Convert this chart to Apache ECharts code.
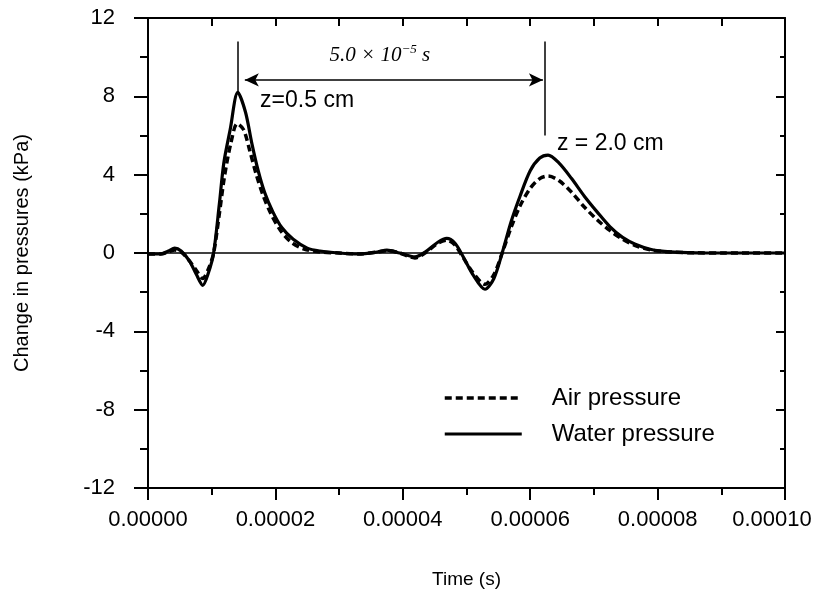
<!DOCTYPE html>
<html><head><meta charset="utf-8">
<script src="https://cdn.jsdelivr.net/npm/echarts@6/dist/echarts.min.js"></script>
<style>html,body{margin:0;padding:0;background:#fff}#c{width:813px;height:595px}</style>
</head><body><div id="c"></div>
<script>
// ---- data (time in microseconds, pressure change in kPa) ----
const waterTimeUs = [0,2.0,3.2,4.2,5.2,6.5,7.6,8.6,9.5,10.3,11.2,11.9,12.9,14.1,15.3,16.3,17.3,18.3,19.6,21.0,22.8,25.0,27.0,30.0,33.0,36.0,37.5,39.5,41.9,43.5,45.5,46.9,48.2,49.5,51.0,52.9,54.3,55.6,57.0,58.4,60.0,61.5,62.8,64.5,66.5,68.5,70.5,72.5,74.5,76.5,79.0,82.0,86.0,90.0,100.0];
const waterKPa    = [-0.05,-0.05,0.1,0.25,0.1,-0.4,-1.1,-1.65,-1.0,0,2.5,4.6,6.3,8.2,7.2,5.6,4.2,3.1,2.1,1.3,0.7,0.25,0.1,0.0,-0.05,0.05,0.15,0.0,-0.2,0.05,0.55,0.75,0.5,-0.2,-1.1,-1.85,-1.3,0,1.6,2.9,4.2,4.85,5.0,4.6,3.8,2.9,2.1,1.35,0.8,0.45,0.18,0.06,0.01,0,0];
const airTimeUs   = [0,2.0,3.2,4.2,5.2,6.5,7.6,8.6,9.5,10.3,11.2,12.0,13.0,14.0,15.0,16.0,17.0,18.0,19.3,20.8,22.5,24.5,27.0,30.0,33.0,36.0,37.5,39.5,41.9,43.5,45.5,46.9,48.2,49.5,51.0,52.9,54.3,55.6,57.0,58.4,60.0,61.5,62.8,64.5,66.5,68.5,70.5,72.5,74.5,76.5,79.0,82.0,86.0,90.0,100.0];
const airKPa      = [-0.05,-0.05,0.05,0.15,0.05,-0.4,-0.9,-1.3,-0.8,0,2.0,3.9,5.6,6.6,6.3,5.2,4.0,3.0,2.0,1.15,0.55,0.2,0.05,0,-0.05,0.05,0.12,0,-0.25,0.0,0.5,0.65,0.4,-0.25,-1.0,-1.6,-1.1,0,1.3,2.4,3.3,3.8,3.93,3.7,3.1,2.35,1.7,1.15,0.7,0.38,0.15,0.05,0.01,0,0];
const seriesNames = ['Air pressure', 'Water pressure'];
const peak1Us = 14.1, peak2Us = 62.3;

const toPairs = (ts, vs) => ts.map((t, i) => [t * 1e-6, vs[i]]);
const black = '#000';
const FONT = 'Arial, "Liberation Sans", Helvetica, sans-serif';
const airLine = { color: black, width: 3.5, type: [7, 4] };
const waterLine = { color: black, width: 3.2 };
const X_MAX = 0.0001;

const chart = echarts.init(document.getElementById('c'));
const option = {
  animation: false,
  backgroundColor: '#fff',
  grid: { left: 148, right: 28, top: 18, bottom: 107, containLabel: false, outerBoundsMode: 'none' },
  legend: {
    data: [
      { name: seriesNames[0], lineStyle: airLine, itemStyle: { opacity: 0 } },
      { name: seriesNames[1], lineStyle: waterLine, itemStyle: { opacity: 0 } }
    ],
    orient: 'vertical',
    left: 438, top: 381,
    itemWidth: 77, itemHeight: 14, itemGap: 12,
    itemStyle: { opacity: 0, borderWidth: 0 },
    textStyle: { fontFamily: FONT, fontSize: 24, color: black, padding: [0,0,0,25] },
    inactiveColor: black
  },
  xAxis: [{
    type: 'value', position: 'bottom', min: 0, max: X_MAX, interval: 0.00002,
    name: 'Time (s)', nameLocation: 'middle', nameGap: 82,
    nameTextStyle: { fontFamily: FONT, fontSize: 19, color: black },
    axisLine: { show: true, onZero: false, lineStyle: { color: black, width: 2 } },
    axisTick: { show: true, inside: false, length: 12, lineStyle: { color: black, width: 2 } },
    minorTick: { show: true, splitNumber: 2, length: 7, lineStyle: { color: black, width: 2 } },
    splitLine: { show: false },
    axisLabel: { fontFamily: FONT, fontSize: 22, color: black, margin: 21, overflow: 'none',
                 formatter: v => Math.abs(v - X_MAX) < 1e-12 ? '{last|' + v.toFixed(5) + '}' : v.toFixed(5),
                 rich: { last: { fontFamily: FONT, fontSize: 22, color: black, padding: [0, 26, 0, 0] } } }
  }, {
    type: 'value', position: 'top', min: 0, max: X_MAX, interval: 0.00002,
    axisLine: { show: true, onZero: false, lineStyle: { color: black, width: 2 } },
    axisTick: { show: true, inside: true, length: 8, lineStyle: { color: black, width: 2 } },
    minorTick: { show: true, splitNumber: 2, length: 8, lineStyle: { color: black, width: 2 } },
    splitLine: { show: false }, axisLabel: { show: false }
  }],
  yAxis: [{
    type: 'value', position: 'left', min: -12, max: 12, interval: 4,
    name: 'Change in pressures (kPa)', nameLocation: 'middle', nameGap: 116, nameRotate: 90,
    nameTextStyle: { fontFamily: FONT, fontSize: 20, color: black },
    axisLine: { show: true, onZero: false, lineStyle: { color: black, width: 2 } },
    axisTick: { show: true, inside: false, length: 14, lineStyle: { color: black, width: 2 } },
    minorTick: { show: true, splitNumber: 2, length: 8, lineStyle: { color: black, width: 2 } },
    splitLine: { show: false },
    axisLabel: { fontFamily: FONT, fontSize: 22, color: black, margin: 33 }
  }, {
    type: 'value', position: 'right', min: -12, max: 12, interval: 4,
    axisLine: { show: true, onZero: false, lineStyle: { color: black, width: 2 } },
    axisTick: { show: true, inside: true, length: 9, lineStyle: { color: black, width: 2 } },
    minorTick: { show: true, splitNumber: 2, length: 5, lineStyle: { color: black, width: 2 } },
    splitLine: { show: false }, axisLabel: { show: false }
  }],
  series: [{
    name: seriesNames[0], type: 'line', xAxisIndex: 0, yAxisIndex: 0,
    data: toPairs(airTimeUs, airKPa), smooth: 0.3, symbol: 'none', showSymbol: false,
    lineStyle: airLine, itemStyle: { color: black },
    emphasis: { disabled: true }, z: 3
  }, {
    name: seriesNames[1], type: 'line', xAxisIndex: 0, yAxisIndex: 0,
    data: toPairs(waterTimeUs, waterKPa), smooth: 0.3, symbol: 'none', showSymbol: false,
    lineStyle: waterLine, itemStyle: { color: black },
    emphasis: { disabled: true }, z: 4,
    markLine: {
      silent: true, animation: false, symbol: 'none',
      label: { show: false }, emphasis: { disabled: true },
      lineStyle: { color: black, width: 1.5, type: 'solid' },
      data: [
        { yAxis: 0, lineStyle: { width: 1.5 } },
        [{ coord: [peak1Us * 1e-6, 10.8] }, { coord: [peak1Us * 1e-6, 8.2] }],
        [{ coord: [peak2Us * 1e-6, 10.8] }, { coord: [peak2Us * 1e-6, 6.0] }],
        [{ coord: [15.2e-6, 8.84], symbol: 'arrow', symbolSize: [10, 14] },
         { coord: [62.0e-6, 8.84], symbol: 'arrow', symbolSize: [10, 14] }]
      ]
    }
  }]
};
chart.setOption(option);

const px = (tUs, v) => chart.convertToPixel({ gridIndex: 0 }, [tUs * 1e-6, v]);
const pT = px(36.4, 10.1), p1 = px(17.6, 7.8), p2 = px(64.2, 5.6);
chart.setOption({
  graphic: [
    { type: 'text', x: pT[0], y: pT[1], style: {
        text: '{a|5.0 × 10}{b|−5}{a| s}', align: 'center', verticalAlign: 'middle',
        rich: {
          a: { fontFamily: '"Liberation Serif", "DejaVu Serif", serif', fontStyle: 'italic', fontSize: 21, fill: black, lineHeight: 24 },
          b: { fontFamily: '"Liberation Serif", "DejaVu Serif", serif', fontStyle: 'italic', fontSize: 13, fill: black, verticalAlign: 'top', lineHeight: 13 }
        } } },
    { type: 'text', x: p1[0], y: p1[1], style: { text: 'z=0.5 cm', fontFamily: FONT, fontSize: 23, fill: black, align: 'left', verticalAlign: 'middle' } },
    { type: 'text', x: p2[0], y: p2[1], style: { text: 'z = 2.0 cm', fontFamily: FONT, fontSize: 23, fill: black, align: 'left', verticalAlign: 'middle' } }
  ]
});
</script>
</body></html>
